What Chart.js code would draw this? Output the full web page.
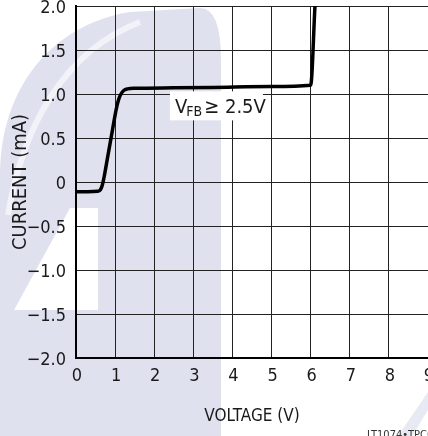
<!DOCTYPE html>
<html>
<head>
<meta charset="utf-8">
<script src="https://cdn.jsdelivr.net/npm/chart.js@4.4.1/dist/chart.umd.min.js"></script>
<style>
  html, body { margin: 0; padding: 0; background: #fff; overflow: hidden; }
  #wrap { position: relative; width: 428px; height: 436px; }
</style>
</head>
<body>
<div id="wrap"><canvas id="chart" width="428" height="436"></canvas></div>
<script>
// curve: voltage (V) / current (mA)
const voltage = [0.00, 0.30, 0.55, 0.62, 0.67, 0.72, 0.80, 0.90, 1.00, 1.05, 1.10, 1.15, 1.22, 1.32, 1.50, 2.50, 3.50, 5.00, 6.00, 6.11];
const current = [-0.11, -0.11, -0.105, -0.09, -0.04, 0.06, 0.26, 0.51, 0.76, 0.87, 0.95, 1.00, 1.04, 1.058, 1.065, 1.07, 1.075, 1.085, 1.10, 2.00];

const xTickLabels = ['0', '1', '2', '3', '4', '5', '6', '7', '8', '9'];
const yTickLabels = ['\u22122.0', '\u22121.5', '\u22121.0', '\u22120.5', '0', '0.5', '1.0', '1.5', '2.0'];

const xTitle = 'VOLTAGE (V)';
const yTitle = 'CURRENT (mA)';
const noteMain = 'V';
const noteSub = 'FB';
const noteRest = '\u2265 2.5V';
const footnote = 'LT1074\u2022TPC02';

const FONT = '"DejaVu Sans Condensed", "Liberation Sans Narrow", sans-serif';
const INK = '#1a1a1a';

// faint logo watermark behind the whole graph
const watermark = {
  id: 'watermark',
  beforeDraw(chart) {
    const ctx = chart.ctx;
    ctx.save();
    ctx.fillStyle = '#fff';
    ctx.fillRect(0, 0, chart.width, chart.height);
    ctx.fillStyle = '#dfe2ee';
    ctx.beginPath();
    ctx.moveTo(0, 436);
    ctx.lineTo(0, 175);
    ctx.bezierCurveTo(0, 90, 50, 25, 130, 12);
    ctx.lineTo(200, 8);
    ctx.quadraticCurveTo(221, 8, 221, 60);
    ctx.lineTo(221, 436);
    ctx.closePath();
    ctx.fill();
    // white cut-out lower left
    ctx.fillStyle = '#fff';
    ctx.beginPath();
    ctx.moveTo(14, 310);
    ctx.lineTo(70, 208);
    ctx.lineTo(98, 208);
    ctx.lineTo(98, 310);
    ctx.closePath();
    ctx.fill();
    // highlight stripe along the arch
    ctx.strokeStyle = 'rgba(255,255,255,0.6)';
    ctx.lineWidth = 6;
    ctx.beginPath();
    ctx.moveTo(8, 215);
    ctx.bezierCurveTo(22, 130, 62, 52, 140, 22);
    ctx.stroke();
    // faint streak bottom right
    ctx.fillStyle = '#e8eaf3';
    ctx.beginPath();
    ctx.moveTo(398, 436);
    ctx.lineTo(428, 392);
    ctx.lineTo(428, 410);
    ctx.lineTo(412, 436);
    ctx.closePath();
    ctx.fill();
    ctx.restore();
  }
};

const note = {
  id: 'note',
  beforeDatasetsDraw(chart) {
    const ctx = chart.ctx;
    const xs = chart.scales.x, ys = chart.scales.y;
    const x0 = xs.getPixelForValue(2.53);
    const base = ys.getPixelForValue(0.78);
    ctx.save();
    ctx.fillStyle = '#fff';
    ctx.fillRect(x0 - 5, base - 22, 93, 29);
    ctx.fillStyle = INK;
    ctx.textBaseline = 'alphabetic';
    ctx.textAlign = 'left';
    ctx.font = '20px ' + FONT;
    ctx.fillText(noteMain, x0, base);
    let x = x0 + ctx.measureText(noteMain).width - 1;
    ctx.font = '14px ' + FONT;
    ctx.fillText(noteSub, x, base + 3);
    x += ctx.measureText(noteSub).width + 2;
    ctx.font = '20px ' + FONT;
    ctx.fillText(noteRest, x, base);
    ctx.restore();
  },
  afterDraw(chart) {
    const ctx = chart.ctx;
    ctx.save();
    ctx.fillStyle = '#333';
    ctx.font = '11px ' + FONT;
    ctx.textBaseline = 'top';
    ctx.fillText(footnote, 367, 430);
    ctx.restore();
  }
};

new Chart(document.getElementById('chart'), {
  type: 'line',
  data: {
    datasets: [{
      data: voltage.map((v, i) => ({ x: v, y: current[i] })),
      borderColor: '#000',
      borderWidth: 3.5,
      pointRadius: 0,
      cubicInterpolationMode: 'monotone',
      fill: false
    }]
  },
  options: {
    responsive: false,
    animation: false,
    layout: { padding: { top: 6, left: 0, right: 0, bottom: 0 } },
    plugins: { legend: { display: false }, tooltip: { enabled: false } },
    scales: {
      x: {
        type: 'linear',
        min: 0,
        max: 9,
        afterFit: s => { s.height = 78; s.paddingLeft = 0; s.paddingRight = 0; },
        ticks: {
          stepSize: 1,
          autoSkip: false,
          maxRotation: 0,
          padding: 8,
          labelOffset: 1,
          color: INK,
          font: { family: FONT, size: 18 },
          callback: (v, i) => xTickLabels[i]
        },
        grid: { color: '#222', lineWidth: 1, drawTicks: false },
        border: { display: true, color: '#000', width: 2 },
        title: {
          display: true,
          text: xTitle,
          color: INK,
          font: { family: FONT, size: 17 },
          padding: { top: 0, bottom: 9 }
        }
      },
      y: {
        min: -2,
        max: 2,
        afterFit: s => { s.width = 76; s.paddingTop = 0; s.paddingBottom = 0; },
        ticks: {
          stepSize: 0.5,
          padding: 10,
          labelOffset: 2,
          color: INK,
          font: { family: FONT, size: 18 },
          callback: (v, i) => yTickLabels[i]
        },
        grid: { color: '#222', lineWidth: 1, drawTicks: false },
        border: { display: true, color: '#000', width: 2 },
        title: {
          display: true,
          text: yTitle,
          color: INK,
          font: { family: FONT, size: 20 },
          padding: { top: 9, bottom: 0 }
        }
      }
    }
  },
  plugins: [watermark, note]
});
</script>
</body>
</html>
